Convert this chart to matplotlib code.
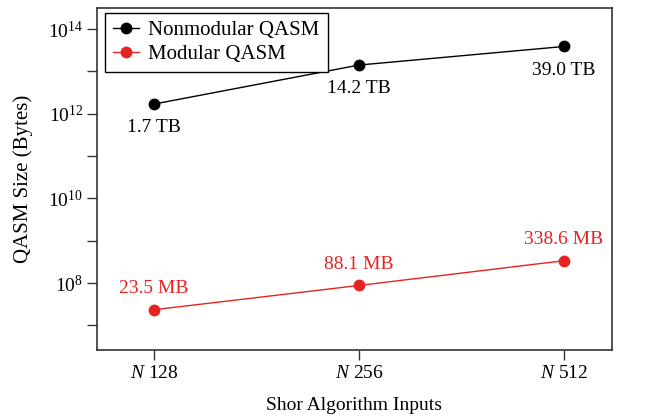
import matplotlib
matplotlib.use("Agg")
import matplotlib.pyplot as plt
from matplotlib.ticker import FixedLocator, NullFormatter

plt.rcParams['font.family'] = ['Liberation Serif', 'DejaVu Serif']
plt.rcParams['mathtext.fontset'] = 'custom'
plt.rcParams['mathtext.rm'] = 'Liberation Serif'
plt.rcParams['mathtext.it'] = 'Liberation Serif:italic'
plt.rcParams['mathtext.bf'] = 'Liberation Serif:bold'

inputs = ["$N$ 128", "$N$ 256", "$N$ 512"]
nonmodular_bytes = [1.7e12, 14.2e12, 39.0e12]
nonmodular_labels = ["1.7 TB", "14.2 TB", "39.0 TB"]
modular_bytes = [23.5e6, 88.1e6, 338.6e6]
modular_labels = ["23.5 MB", "88.1 MB", "338.6 MB"]

black = "#000000"
red = "#e52421"
spine_color = "#333333"

fig = plt.figure(figsize=(6.62, 4.17), dpi=100)
ax = fig.add_axes([97 / 662, 1 - 350 / 417, (612 - 97) / 662, (350 - 8) / 417])

x = list(range(len(inputs)))
ax.plot(x, nonmodular_bytes, color=black, marker='o', markersize=7.5, linewidth=1,
        label="Nonmodular QASM")
ax.plot(x, modular_bytes, color=red, marker='o', markersize=7.5, linewidth=1,
        label="Modular QASM")

for xi, v, t in zip(x, nonmodular_bytes, nonmodular_labels):
    ax.annotate(t, (xi, v), xytext=(0, -11), textcoords='offset points',
                ha='center', va='top', fontsize=14, color=black)
for xi, v, t in zip(x, modular_bytes, modular_labels):
    ax.annotate(t, (xi, v), xytext=(0, 9), textcoords='offset points',
                ha='center', va='bottom', fontsize=14, color=red)

ax.set_yscale('log')
ax.set_ylim(10 ** 6.42, 10 ** 14.5)
ax.set_xlim(-0.278, 2.234)
ax.yaxis.set_major_locator(FixedLocator([1e8, 1e10, 1e12, 1e14]))
ax.yaxis.set_minor_locator(FixedLocator([1e7, 1e9, 1e11, 1e13]))
ax.yaxis.set_minor_formatter(NullFormatter())
ax.set_xticks(x)
ax.set_xticklabels(inputs)
ax.tick_params(axis='both', which='major', labelsize=14, length=7, width=1,
               color=spine_color)
ax.tick_params(axis='y', which='major', pad=3)
ax.tick_params(axis='y', which='minor', length=7, width=1, color=spine_color)
for s in ax.spines.values():
    s.set_color(spine_color)
    s.set_linewidth(1.2)

ax.set_xlabel("Shor Algorithm Inputs", fontsize=14, labelpad=11)
ax.set_ylabel("QASM Size (Bytes)", fontsize=15)
ax.yaxis.set_label_coords(-0.124, 0.5)

leg = ax.legend(loc='upper left', bbox_to_anchor=(8 / 515, 1 - 5 / 342),
                borderaxespad=0, fontsize=15, fancybox=False, edgecolor='black',
                framealpha=1, handlelength=1.25, labelspacing=0.18,
                borderpad=0.38, handletextpad=0.45)
leg.get_frame().set_linewidth(1.0)

fig.savefig("out.png", dpi=100)
